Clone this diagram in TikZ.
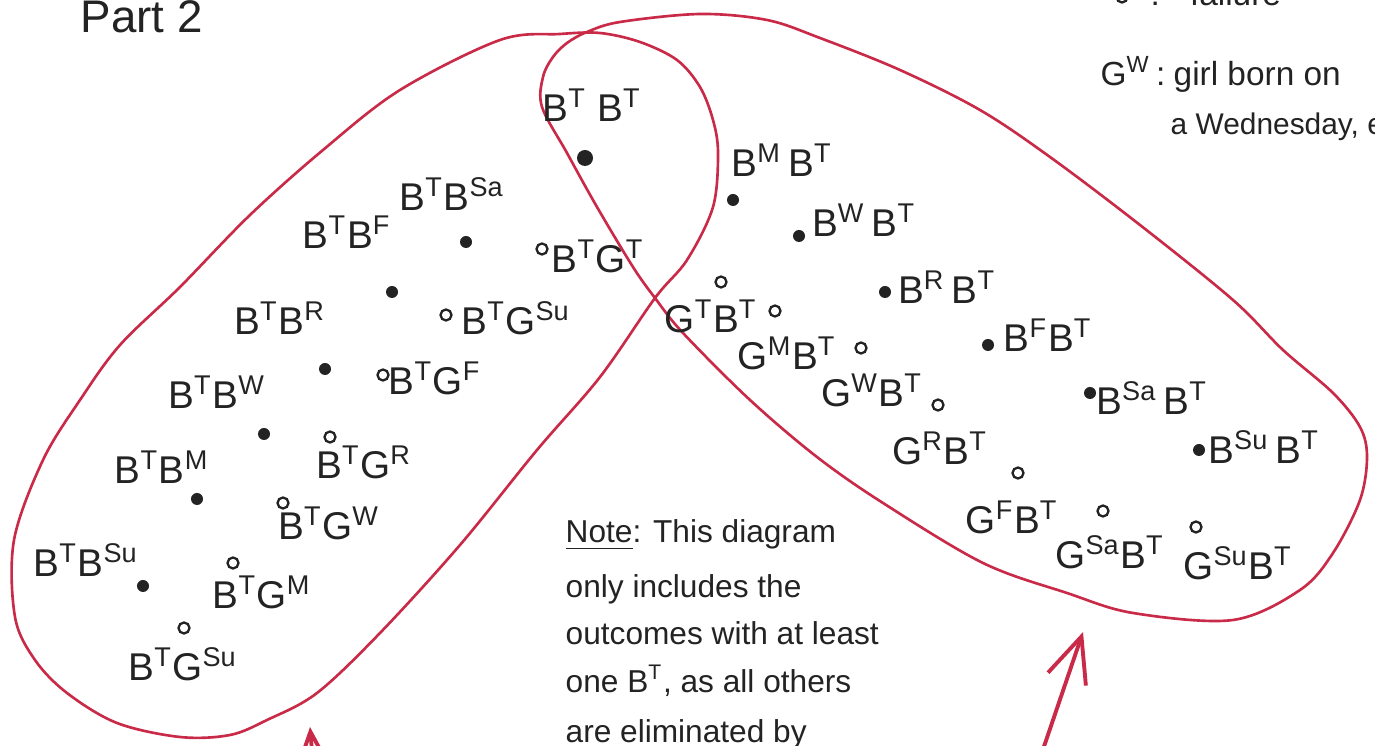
\documentclass[tikz,border=0pt]{standalone}
\usepackage{fontspec}
\setmainfont{Liberation Sans}
\usetikzlibrary{arrows.meta}
\definecolor{cLoop}{RGB}{200,42,72}
\definecolor{cInk}{RGB}{35,35,35}
\newcommand{\kid}[2]{#1\textsuperscript{#2}}
\tikzset{
	loopline/.style={cLoop, line width=0.75pt},
	pointer/.style ={cLoop, line width=1.1pt, line cap=round, -{Straight Barb[length=4.5mm, width=4mm, line width=1.1pt]}},
	outc/.style    ={font=\fontsize{11}{13}\selectfont, text=cInk, inner sep=1pt},
	bb/.style      ={circle, fill=cInk, inner sep=0pt, minimum size=0.12cm},
	bg/.style      ={circle, draw=cInk, line width=0.65pt, inner sep=0pt, minimum size=0.11cm},
	hand/.style    ={font=\fontsize{9}{11}\selectfont, text=cInk, inner sep=0pt, anchor=base west},
}
\begin{document}
\begin{tikzpicture}[x=0.01cm, y=-0.01cm]
	\useasboundingbox (0,0) rectangle (1375,746);
	% title and legend
	\node[hand, font=\fontsize{13}{15}\selectfont] (title) at (80,33) {Part 2};
	\node[bg] (legO) at (1122,-3) {};
	\node[hand, font=\fontsize{9.5}{11}\selectfont] (legF) at (1150,6) {:\hspace{0.9em}failure};
	\node[hand, font=\fontsize{9.5}{11}\selectfont] (legG) at (1100,86) {\kid{G}{W}\,:};
	\node[hand, font=\fontsize{9.5}{11}\selectfont] (legA) at (1173,86) {girl born on};
	\node[hand, font=\fontsize{8.5}{10}\selectfont] (legB) at (1170,135) {a Wednesday, e};
	% the two events
	\draw[loopline] plot[smooth cycle, tension=0.55] coordinates {
		(655,298) (687,260) (713,207) (718,153) (713,120) (700,87) (677,60) (640,42) (600,33)
		(560,34) (500,40) (400,90) (323,150) (250,215) (180,287) (120,345) (80,400) (43,460)
		(14,540) (15,617) (35,660) (67,693) (117,723) (180,737) (230,735) (267,720) (317,693)
		(380,633) (460,545) (537,450) (600,377)};
	\draw[loopline] plot[smooth cycle, tension=0.55] coordinates {
		(655,298) (633,267) (597,207) (567,153) (542,107) (543,77) (553,57) (567,43) (587,32)
		(620,22) (700,14) (767,20) (820,38) (900,70) (980,110) (1050,157) (1140,225) (1233,300)
		(1283,350) (1333,393) (1360,427) (1367,457) (1360,500) (1333,553) (1300,590) (1233,620)
		(1133,613) (1067,593) (983,563) (883,503) (817,457) (750,400) (683,333)};
	% outcomes B^T with a boy
	\node[outc] (bTbT) at (592,105) {\kid{B}{T}\ \kid{B}{T}};
	\node[bb, minimum size=0.16cm] (bTbT-pt) at (585,158) {};
	\node[outc] (bTbSa) at (452,194) {\kid{B}{T}\kid{B}{Sa}};
	\node[bb] (bTbSa-pt) at (466,242) {};
	\node[outc] (bTbF) at (347,232) {\kid{B}{T}\kid{B}{F}};
	\node[bb] (bTbF-pt) at (392,292) {};
	\node[outc] (bTbR) at (280,318) {\kid{B}{T}\kid{B}{R}};
	\node[bb] (bTbR-pt) at (325,369) {};
	\node[outc] (bTbW) at (217,392) {\kid{B}{T}\kid{B}{W}};
	\node[bb] (bTbW-pt) at (264,434) {};
	\node[outc] (bTbM) at (162,467) {\kid{B}{T}\kid{B}{M}};
	\node[bb] (bTbM-pt) at (197,499) {};
	\node[outc] (bTbSu) at (86,560) {\kid{B}{T}\kid{B}{Su}};
	\node[bb] (bTbSu-pt) at (143,586) {};
	% outcomes B^T with a girl
	\node[outc] (bTgT) at (598,256) {\kid{B}{T}\kid{G}{T}};
	\node[bg] (bTgT-pt) at (542,249) {};
	\node[outc] (bTgSa) at (516,318) {\kid{B}{T}\kid{G}{Su}};
	\node[bg] (bTgSa-pt) at (446,315) {};
	\node[outc] (bTgF) at (435,378) {\kid{B}{T}\kid{G}{F}};
	\node[bg] (bTgF-pt) at (383,375) {};
	\node[outc] (bTgR) at (364,462) {\kid{B}{T}\kid{G}{R}};
	\node[bg] (bTgR-pt) at (330,437) {};
	\node[outc] (bTgW) at (329,523) {\kid{B}{T}\kid{G}{W}};
	\node[bg] (bTgW-pt) at (283,503) {};
	\node[outc] (bTgM) at (262,592) {\kid{B}{T}\kid{G}{M}};
	\node[bg] (bTgM-pt) at (233,563) {};
	\node[outc] (bTgSu) at (183,664) {\kid{B}{T}\kid{G}{Su}};
	\node[bg] (bTgSu-pt) at (184,628) {};
	% outcomes with the boy born on Tuesday second
	\node[outc] (bMbT) at (782,160) {\kid{B}{M}\,\kid{B}{T}};
	\node[bb] (bMbT-pt) at (733,200) {};
	\node[outc] (bWbT) at (864,220) {\kid{B}{W}\,\kid{B}{T}};
	\node[bb] (bWbT-pt) at (799,236) {};
	\node[outc] (bRbT) at (947,287) {\kid{B}{R}\,\kid{B}{T}};
	\node[bb] (bRbT-pt) at (885,292) {};
	\node[outc] (bFbT) at (1048,335) {\kid{B}{F}\kid{B}{T}};
	\node[bb] (bFbT-pt) at (988,345) {};
	\node[outc] (bSabT) at (1152,398) {\kid{B}{Sa}\,\kid{B}{T}};
	\node[bb] (bSabT-pt) at (1090,393) {};
	\node[outc] (bSubT) at (1264,447) {\kid{B}{Su}\,\kid{B}{T}};
	\node[bb] (bSubT-pt) at (1199,450) {};
	\node[outc] (gTbT) at (711,316) {\kid{G}{T}\kid{B}{T}};
	\node[bg] (gTbT-pt) at (721,282) {};
	\node[outc] (gMbT) at (787,353) {\kid{G}{M}\kid{B}{T}};
	\node[bg] (gMbT-pt) at (775,311) {};
	\node[outc] (gWbT) at (872,390) {\kid{G}{W}\kid{B}{T}};
	\node[bg] (gWbT-pt) at (861,348) {};
	\node[outc] (gRbT) at (940,448) {\kid{G}{R}\kid{B}{T}};
	\node[bg] (gRbT-pt) at (938,405) {};
	\node[outc] (gFbT) at (1012,517) {\kid{G}{F}\kid{B}{T}};
	\node[bg] (gFbT-pt) at (1018,473) {};
	\node[outc] (gSabT) at (1110,552) {\kid{G}{Sa}\kid{B}{T}};
	\node[bg] (gSabT-pt) at (1103,511) {};
	\node[outc] (gSubT) at (1238,563) {\kid{G}{Su}\kid{B}{T}};
	\node[bg] (gSubT-pt) at (1196,527) {};
	% note
	\node[hand] (note1) at (565,543) {\underline{Note}: This diagram};
	\node[hand] (note2) at (565,598) {only includes the};
	\node[hand] (note3) at (565,645) {outcomes with at least};
	\node[hand] (note4) at (565,693) {one \kid{B}{T}, as all others};
	\node[hand] (note5) at (565,743) {are eliminated by};
	% pointers from below
	\coordinate (arrLtail) at (316,800);
	\coordinate (arrLtip) at (310,727);
	\coordinate (arrRtail) at (1036,770);
	\coordinate (arrRtip) at (1083,632);
	\draw[pointer] (arrLtail) -- (arrLtip);
	\draw[pointer] (arrRtail) -- (arrRtip);
\end{tikzpicture}
\end{document}
